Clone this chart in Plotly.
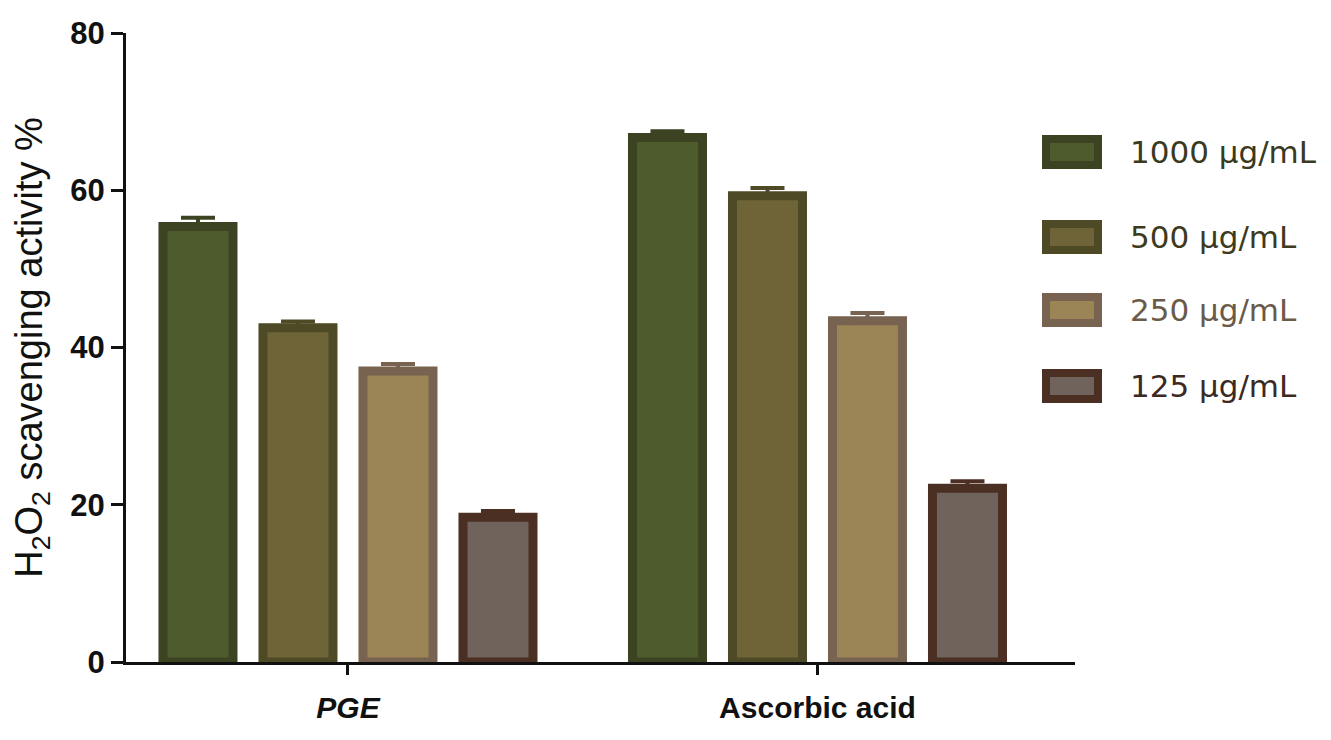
import plotly.graph_objects as go

categories = ["PGE", "Ascorbic acid"]
tick_labels = ["<b><i>PGE</i></b>", "<b>Ascorbic acid</b>"]
series_names = ["1000 \u03bcg/mL", "500 \u03bcg/mL", "250 \u03bcg/mL", "125 \u03bcg/mL"]
means_1000 = [55.4, 66.7]
means_500 = [42.5, 59.3]
means_250 = [37.0, 43.4]
means_125 = [18.4, 22.1]
err_1000 = [1.1, 0.8]
err_500 = [0.8, 1.0]
err_250 = [0.9, 1.0]
err_125 = [0.8, 0.9]

means = [means_1000, means_500, means_250, means_125]
errs = [err_1000, err_500, err_250, err_125]
fills = ["#4e5b2d", "#6f6437", "#9b8456", "#6f635b"]
edges = ["#3c4323", "#4e4a25", "#786350", "#4b2f23"]
text_cols = ["#3a3a22", "#3e3a20", "#6a5a48", "#3c2a22"]

W, H = 1331, 740
OFF = 8  # page body margin
L, R, T, B = 118, 264, 25, 86
pw, ph = W - L - R, H - T - B

def px_x(px):
    return (px - OFF - L) / pw

def px_y(py):
    return (H - B - (py - OFF)) / ph

fig = go.Figure()
xpos = list(range(len(categories)))
for name, m, e, fc, ec in zip(series_names, means, errs, fills, edges):
    fig.add_trace(go.Bar(
        x=xpos, y=m, name=name,
        marker=dict(color=fc, line=dict(color=ec, width=9)),
        error_y=dict(type="data", array=e, symmetric=False, arrayminus=[0]*len(e),
                     color=ec, thickness=4, width=17),
        showlegend=False,
    ))

# manual legend (large swatches like the original)
legend_centers = [152, 237, 310, 386]
for name, fc, ec, tc, cy in zip(series_names, fills, edges, text_cols, legend_centers):
    fig.add_shape(type="rect", xref="paper", yref="paper",
                  x0=px_x(1046), x1=px_x(1098),
                  y0=px_y(cy + 13), y1=px_y(cy - 13),
                  fillcolor=fc, line=dict(color=ec, width=8), layer="above")
    fig.add_annotation(xref="paper", yref="paper", x=px_x(1128), y=px_y(cy),
                       text=name, showarrow=False, xanchor="left", yanchor="middle",
                       font=dict(family="DejaVu Sans", size=31, color=tc))

fig.update_layout(
    width=W, height=H,
    margin=dict(l=L, r=R, t=T, b=B, autoexpand=False),
    paper_bgcolor="white", plot_bgcolor="white",
    barmode="group", bargap=0.148, bargroupgap=0.30,
    font=dict(family="Liberation Sans, Arial", color="#111111"),
    xaxis=dict(
        range=[-0.4728, 1.5485], tickmode="array", tickvals=xpos, ticktext=tick_labels,
        showline=True, linecolor="#111111", linewidth=3,
        ticks="outside", ticklen=10, tickwidth=3, tickcolor="#111111",
        tickfont=dict(size=30, color="#111111"), showgrid=False, zeroline=False,
        ticklabelstandoff=7,
    ),
    yaxis=dict(
        range=[0, 80], tickvals=[0, 20, 40, 60, 80],
        showline=True, linecolor="#111111", linewidth=3,
        ticks="outside", ticklen=12, tickwidth=3, tickcolor="#111111",
        tickfont=dict(size=31, color="#111111", weight="bold"), showgrid=False, zeroline=False,
        title=dict(text="H<sub>2</sub>O<sub>2</sub> scavenging activity %",
                   font=dict(size=38, color="#111111"), standoff=20),
    ),
)

fig.write_html("out.html")
